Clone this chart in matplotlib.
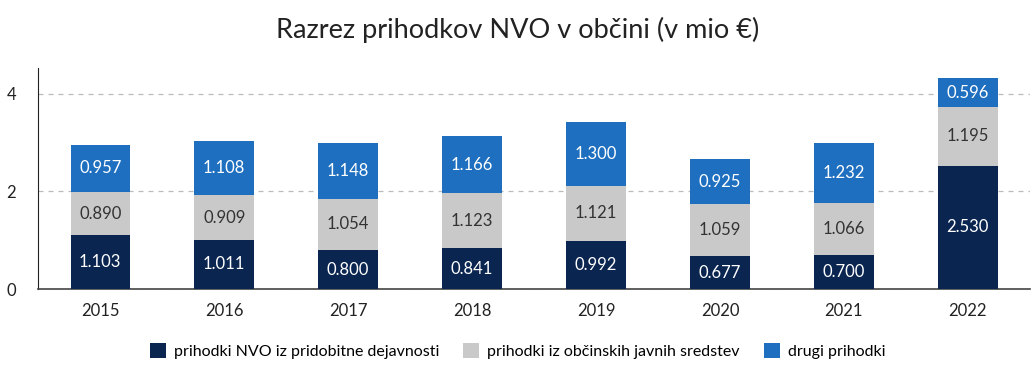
import matplotlib.pyplot as plt
import numpy as np

years = ['2015', '2016', '2017', '2018', '2019', '2020', '2021', '2022']
pridobitne = [1.103, 1.011, 0.800, 0.841, 0.992, 0.677, 0.700, 2.530]
obcinski = [0.890, 0.909, 1.054, 1.123, 1.121, 1.059, 1.066, 1.195]
drugi = [0.957, 1.108, 1.148, 1.166, 1.300, 0.925, 1.232, 0.596]

labels = ['prihodki NVO iz pridobitne dejavnosti',
          'prihodki iz občinskih javnih sredstev',
          'drugi prihodki']
colors = ['#0a2550', '#c9c9c9', '#1e6fc0']
text_colors = ['white', '#333333', 'white']

plt.rcParams['font.family'] = ['Lato', 'DejaVu Sans']

fig = plt.figure(figsize=(10.35, 3.77), dpi=100)
ax = fig.add_axes([0.037, 0.233, 0.958, 0.587])

x = np.arange(len(years))
bottom = np.zeros(len(years))
for vals, lab, col, tc in zip([pridobitne, obcinski, drugi], labels, colors, text_colors):
    bars = ax.bar(x, vals, 0.48, bottom=bottom, color=col, label=lab, zorder=3)
    ax.bar_label(bars, labels=['%.3f' % v for v in vals], label_type='center',
                 color=tc, fontsize=12)
    bottom += np.array(vals)

ax.set_xlim(-0.5, 7.5)
ax.set_ylim(0, 4.53)
ax.set_yticks([0, 2, 4])
ax.set_xticks(x, years)
ax.tick_params(axis='both', length=0, labelsize=12, colors='#222222')
ax.tick_params(axis='x', pad=10)
ax.tick_params(axis='y', pad=16)
ax.yaxis.grid(True, linestyle=(0, (4, 4)), color='#bbbbbb', linewidth=0.9, zorder=0)
for s in ['top', 'right']:
    ax.spines[s].set_visible(False)
ax.spines['left'].set_color('#222222')
ax.spines['bottom'].set_color('#444444')
ax.spines['bottom'].set_linewidth(1.2)

fig.suptitle('Razrez prihodkov NVO v občini (v mio €)', y=0.955, fontsize=19.5, color='#222222')
fig.legend(loc='lower center', bbox_to_anchor=(0.5, 0.01), ncol=3, frameon=False,
           fontsize=11.5, handlelength=1.0, handleheight=1.0, columnspacing=1.5,
           handletextpad=0.5)

fig.savefig('out.png', dpi=100)
